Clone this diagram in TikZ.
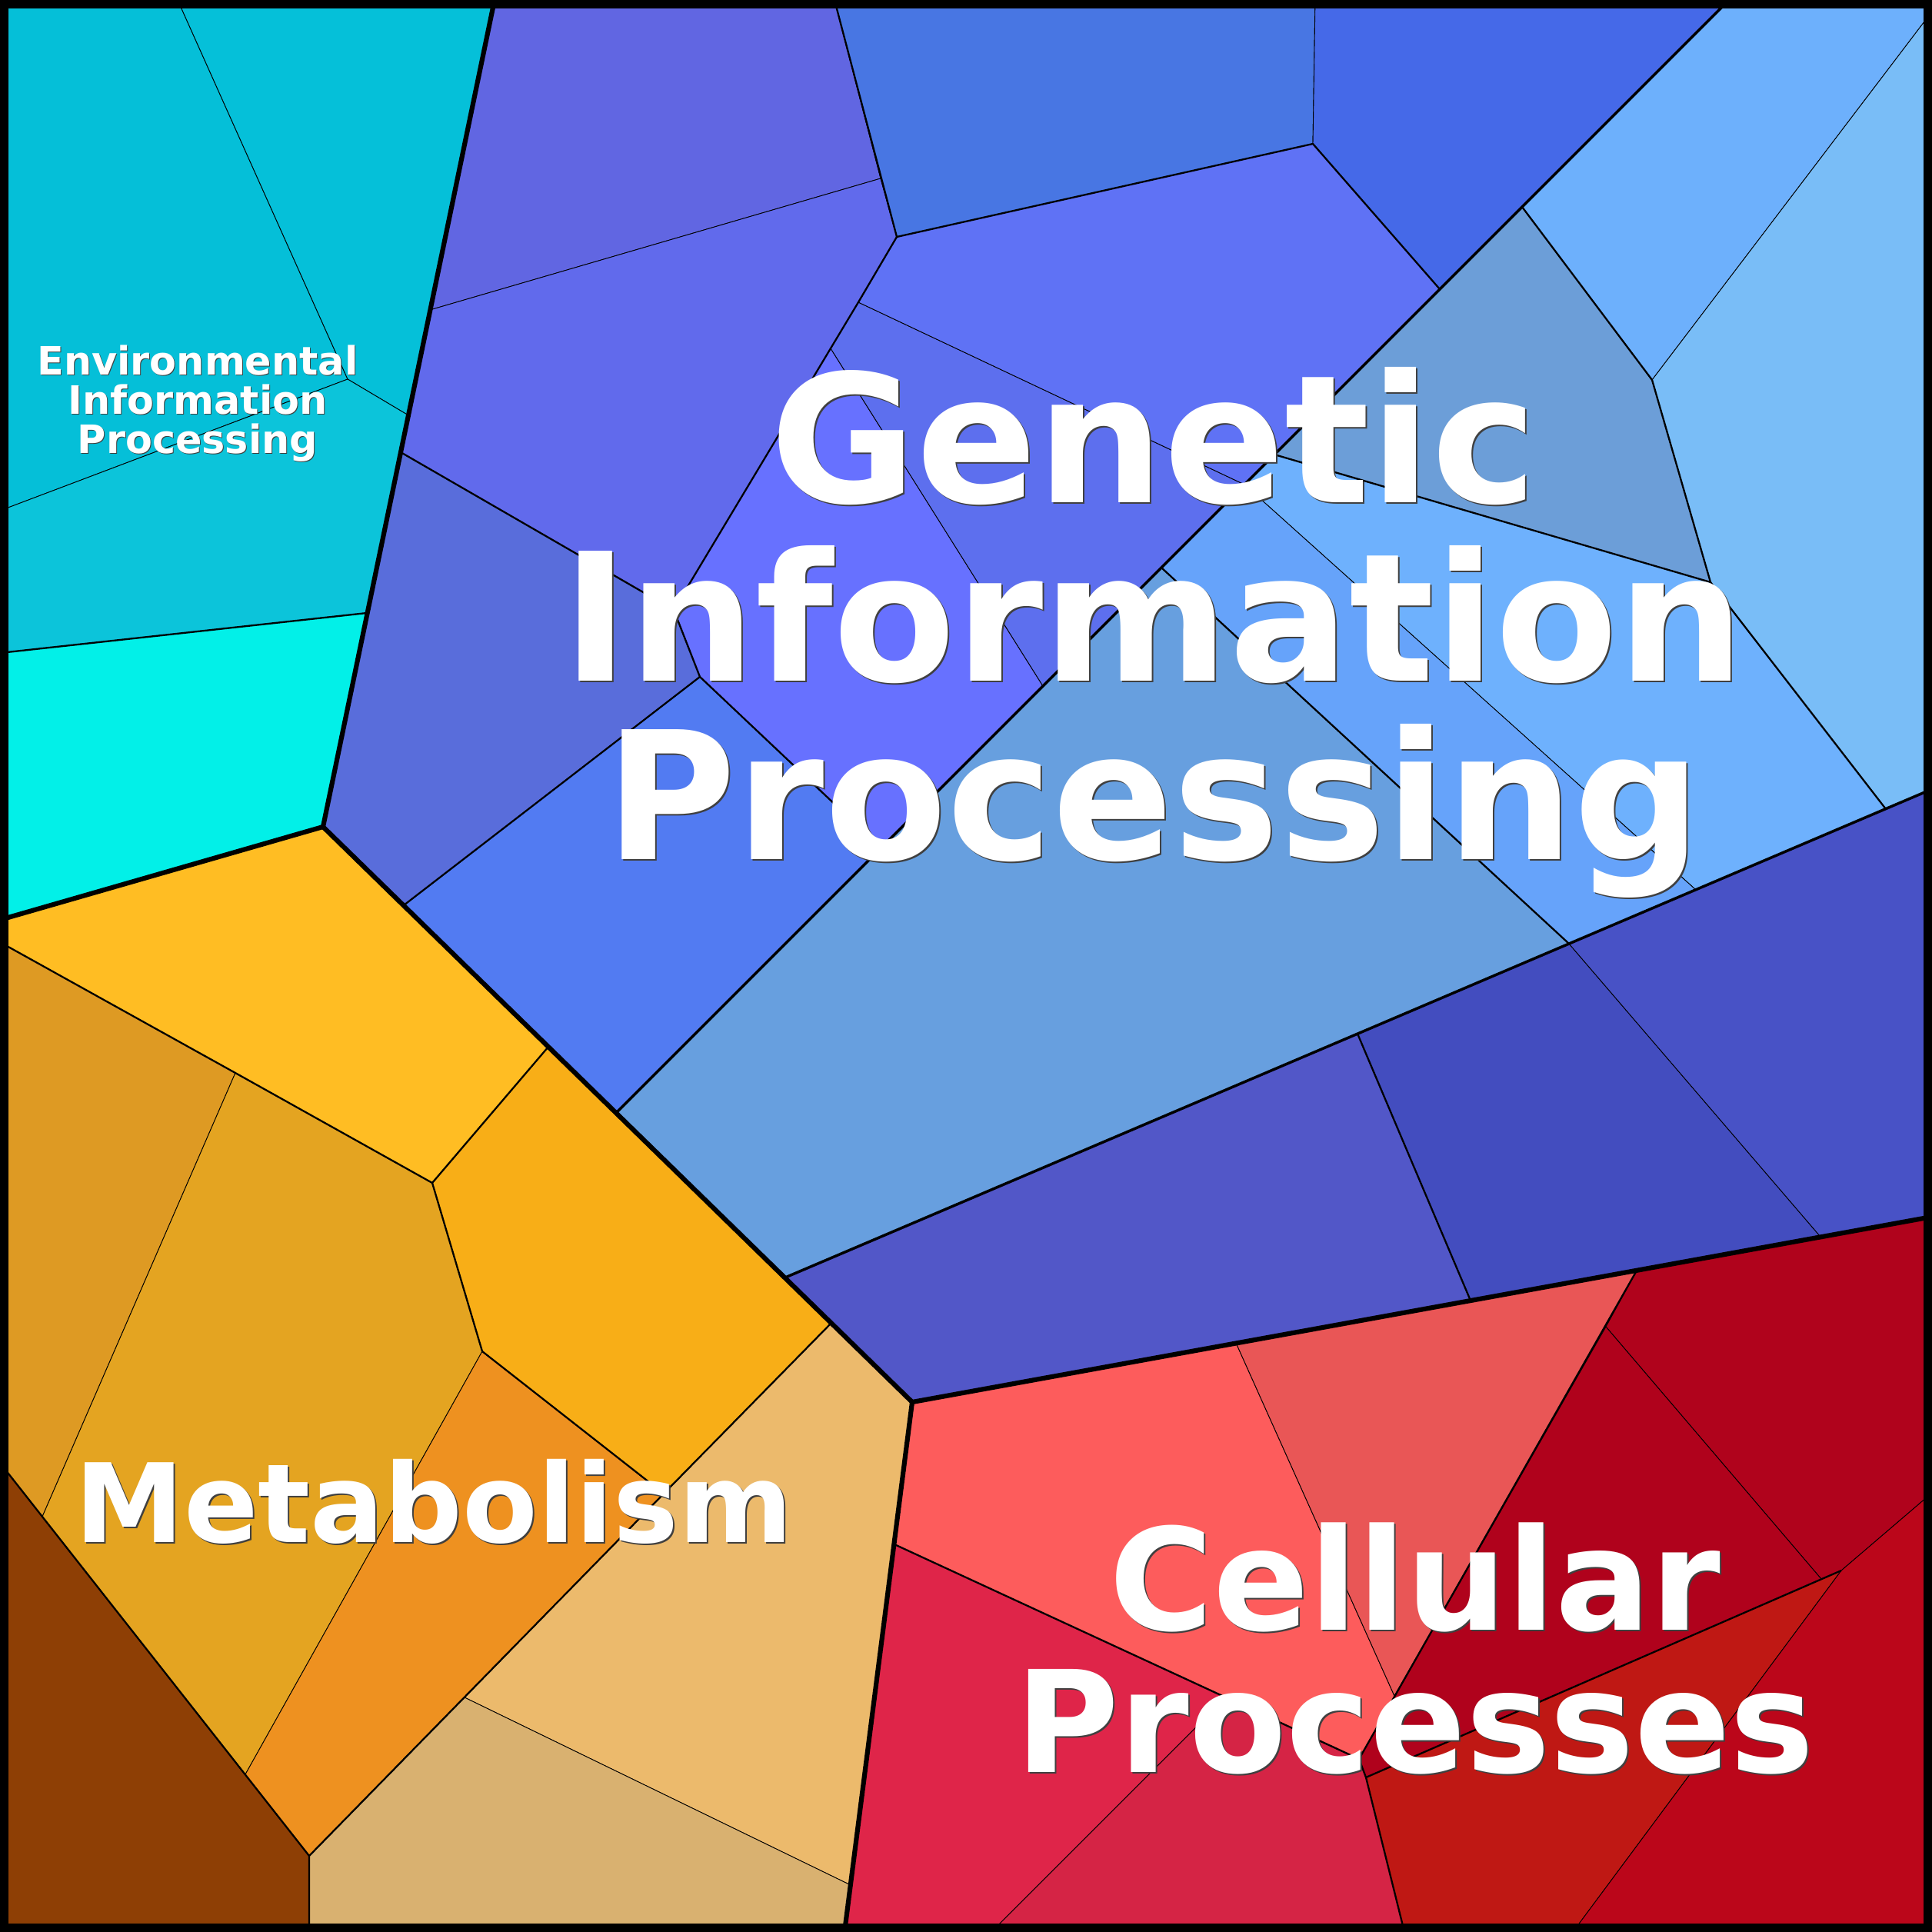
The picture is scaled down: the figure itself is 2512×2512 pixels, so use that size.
\documentclass[tikz,border=0pt]{standalone}
\usepackage{fontspec}
\setmainfont{DejaVu Sans}

% cell colours
\definecolor{envA}{HTML}{05BFD8}
\definecolor{envB}{HTML}{05C0D9}
\definecolor{envC}{HTML}{0CC4DA}
\definecolor{envD}{HTML}{02F0E8}
\definecolor{genA}{HTML}{6166E2}
\definecolor{genB}{HTML}{616AEC}
\definecolor{genC}{HTML}{596DDB}
\definecolor{genD}{HTML}{527BF2}
\definecolor{genE}{HTML}{6771FF}
\definecolor{genF}{HTML}{5D6FEE}
\definecolor{genG}{HTML}{5F72F5}
\definecolor{genH}{HTML}{4876E3}
\definecolor{genI}{HTML}{4569E8}
\definecolor{repA}{HTML}{6DB0FC}
\definecolor{repB}{HTML}{79BDF7}
\definecolor{repC}{HTML}{6C9ED8}
\definecolor{repD}{HTML}{6EB1FD}
\definecolor{repE}{HTML}{66A3FA}
\definecolor{repF}{HTML}{679FDF}
\definecolor{fldA}{HTML}{5257C8}
\definecolor{fldB}{HTML}{434DBF}
\definecolor{fldC}{HTML}{4852C6}
\definecolor{celA}{HTML}{FD5C5C}
\definecolor{celB}{HTML}{E95656}
\definecolor{celC}{HTML}{DF2549}
\definecolor{celD}{HTML}{D52445}
\definecolor{celE}{HTML}{B0031C}
\definecolor{celF}{HTML}{B0021C}
\definecolor{celG}{HTML}{BF1814}
\definecolor{celH}{HTML}{BB061A}
\definecolor{metA}{HTML}{FFBD23}
\definecolor{metB}{HTML}{F8AE17}
\definecolor{metC}{HTML}{DE9A23}
\definecolor{metD}{HTML}{E4A421}
\definecolor{metE}{HTML}{EE9120}
\definecolor{metF}{HTML}{8E3F05}
\definecolor{metG}{HTML}{ECBA6C}
\definecolor{metH}{HTML}{D9B170}

\begin{document}
\begin{tikzpicture}[x=0.01cm, y=-0.01cm,
  cell/.style={draw=black, line width=0.25pt, line join=round},
  midline/.style={draw=black, line width=0.65pt, line join=round},
  subline/.style={draw=black, line width=1pt, line join=round},
  mainline/.style={draw=black, line width=1.75pt, line join=round},
  frame/.style={draw=black, line width=6.2pt},
  lbl/.style={inner sep=0pt, anchor=base, text=white},
  lblshadow/.style={inner sep=0pt, anchor=base, text=black!75},
  envfont/.style={font=\bfseries\fontsize{14.45}{14.5}\selectfont},
  genfont/.style={font=\bfseries\fontsize{65.9}{66}\selectfont},
  celfont/.style={font=\bfseries\fontsize{52.3}{52.6}\selectfont},
  metfont/.style={font=\bfseries\fontsize{40.5}{40.5}\selectfont}]

\useasboundingbox (0,0) rectangle (2512,2512);

% vertices
\coordinate (eg) at (643,0);
\coordinate (e1) at (231,0);
\coordinate (e2) at (452,493);
\coordinate (e3) at (531,540);
\coordinate (e4) at (0,664);
\coordinate (e5) at (0,849);
\coordinate (e6) at (477,797);
\coordinate (em) at (0,1196);
\coordinate (m0) at (420,1075);

\coordinate (g1) at (1085,0);
\coordinate (g2) at (1145,232);
\coordinate (g3) at (1166,308);
\coordinate (g4) at (559,403);
\coordinate (g5) at (1116,393);
\coordinate (g6) at (1080,453);
\coordinate (g7) at (876,793);
\coordinate (g8) at (521,588);
\coordinate (g9) at (910,880);
\coordinate (g10) at (525,1177);
\coordinate (g11) at (1145,1102);
\coordinate (g12) at (801,1447);
\coordinate (g13) at (1356,892);
\coordinate (g14) at (1618,630);
\coordinate (g15) at (1707,187);
\coordinate (g16) at (1710,0);
\coordinate (g17) at (1872,376);
\coordinate (g18) at (2248,0);

\coordinate (ra) at (1979,269);
\coordinate (rb) at (2512,15);
\coordinate (rc) at (2148,494);
\coordinate (rd) at (2224,757);
\coordinate (re) at (2512,1026);
\coordinate (rf) at (2452,1052);
\coordinate (rg) at (1657,591);
\coordinate (rh) at (2205,1157);
\coordinate (ri) at (2040,1227);
\coordinate (rj) at (1510,738);
\coordinate (rk) at (1021,1661);

\coordinate (qa) at (1765,1344);
\coordinate (qb) at (1912,1691);
\coordinate (qc) at (2367,1608);
\coordinate (qd) at (2512,1582);
\coordinate (mc) at (1186,1823);

\coordinate (c1) at (1607,1746);
\coordinate (c2) at (2128,1652);
\coordinate (c3) at (1767,2287);
\coordinate (c4) at (1813,2205);
\coordinate (c5) at (1163,2008);
\coordinate (c6) at (1594,2207);
\coordinate (c7) at (1776,2311);
\coordinate (c8) at (1826,2512);
\coordinate (c9) at (1289,2512);
\coordinate (c10) at (2088,1725);
\coordinate (c11) at (2394,2042);
\coordinate (c12) at (2512,1941);
\coordinate (c13) at (2045,2512);
\coordinate (c14) at (2368,2053);
\coordinate (cb) at (1098,2512);

\coordinate (m1) at (0,1225);
\coordinate (m2) at (306,1395);
\coordinate (m3) at (562,1538);
\coordinate (m4) at (713,1361);
\coordinate (m5) at (627,1757);
\coordinate (m6) at (863,1942);
\coordinate (m7) at (1081,1720);
\coordinate (m8) at (319,2307);
\coordinate (m9) at (402,2413);
\coordinate (m10) at (0,1902);
\coordinate (m11) at (55,1972);
\coordinate (m12) at (604,2207);
\coordinate (m13) at (1106,2451);
\coordinate (m14) at (402,2512);

% Environmental Information Processing
\path[cell, fill=envA] (0,0) -- (e1) -- (e2) -- (e4) -- cycle;
\path[cell, fill=envB] (e1) -- (eg) -- (e3) -- (e2) -- cycle;
\path[cell, fill=envC] (e4) -- (e2) -- (e3) -- (e6) -- (e5) -- cycle;
\path[cell, fill=envD] (e5) -- (e6) -- (m0) -- (em) -- cycle;

% Genetic Information Processing
\path[cell, fill=genA] (eg) -- (g1) -- (g2) -- (g4) -- cycle;
\path[cell, fill=genB] (g4) -- (g2) -- (g3) -- (g5) -- (g6) -- (g7) -- (g8) -- cycle;
\path[cell, fill=genC] (g8) -- (g7) -- (g9) -- (g10) -- (m0) -- cycle;
\path[cell, fill=genD] (g10) -- (g9) -- (g11) -- (g12) -- cycle;
\path[cell, fill=genE] (g7) -- (g6) -- (g13) -- (g11) -- (g9) -- cycle;
\path[cell, fill=genF] (g6) -- (g5) -- (g14) -- (g13) -- cycle;
\path[cell, fill=genG] (g3) -- (g15) -- (g17) -- (g14) -- (g5) -- cycle;
\path[cell, fill=genH] (g1) -- (g16) -- (g15) -- (g3) -- (g2) -- cycle;
\path[cell, fill=genI] (g16) -- (g18) -- (g17) -- (g15) -- cycle;

\path[cell, fill=repA] (g18) -- (2512,0) -- (rb) -- (rc) -- (ra) -- cycle;
\path[cell, fill=repB] (rb) -- (re) -- (rf) -- (rd) -- (rc) -- cycle;
\path[cell, fill=repC] (ra) -- (rc) -- (rd) -- (rg) -- cycle;
\path[cell, fill=repD] (rg) -- (rd) -- (rf) -- (rh) -- (g14) -- cycle;
\path[cell, fill=repE] (g14) -- (rh) -- (ri) -- (rj) -- cycle;
\path[cell, fill=repF] (rj) -- (ri) -- (rk) -- (g12) -- cycle;

\path[cell, fill=fldA] (rk) -- (qa) -- (qb) -- (mc) -- cycle;
\path[cell, fill=fldB] (qa) -- (ri) -- (qc) -- (qb) -- cycle;
\path[cell, fill=fldC] (ri) -- (re) -- (qd) -- (qc) -- cycle;

% Cellular Processes
\path[cell, fill=celA] (mc) -- (c1) -- (c4) -- (c3) -- (c5) -- cycle;
\path[cell, fill=celB] (c1) -- (c2) -- (c4) -- cycle;
\path[cell, fill=celC] (c5) -- (c6) -- (c9) -- (cb) -- cycle;
\path[cell, fill=celD] (c6) -- (c3) -- (c7) -- (c8) -- (c9) -- cycle;
\path[cell, fill=celE] (c2) -- (qd) -- (c12) -- (c11) -- (c14) -- (c10) -- cycle;
\path[cell, fill=celF] (c10) -- (c14) -- (c7) -- (c3) -- cycle;
\path[cell, fill=celG] (c7) -- (c11) -- (c13) -- (c8) -- cycle;
\path[cell, fill=celH] (c11) -- (c12) -- (2512,2512) -- (c13) -- cycle;

% Metabolism
\path[cell, fill=metA] (em) -- (m0) -- (m4) -- (m3) -- (m2) -- (m1) -- cycle;
\path[cell, fill=metB] (m4) -- (m7) -- (m6) -- (m5) -- (m3) -- cycle;
\path[cell, fill=metC] (m1) -- (m2) -- (m11) -- (m10) -- cycle;
\path[cell, fill=metD] (m2) -- (m3) -- (m5) -- (m8) -- (m11) -- cycle;
\path[cell, fill=metE] (m5) -- (m6) -- (m9) -- (m8) -- cycle;
\path[cell, fill=metF] (m10) -- (m9) -- (m14) -- (0,2512) -- cycle;
\path[cell, fill=metG] (m7) -- (mc) -- (m13) -- (m12) -- (m6) -- cycle;
\path[cell, fill=metH] (m9) -- (m12) -- (m13) -- (cb) -- (m14) -- cycle;

% second level borders
\draw[midline] (e5) -- (e6);
\draw[midline] (g1) -- (g3) -- (g15) -- (g17);
\draw[midline] (g3) -- (g5) -- (g6) -- (g7) -- (g9) -- (g11);
\draw[midline] (g8) -- (g7);
\draw[midline] (g10) -- (g9);
\draw[midline] (ra) -- (rc) -- (rd) -- (rf);
\draw[midline] (rd) -- (rg);
\draw[midline] (rj) -- (ri);
\draw[midline] (qa) -- (qb);
\draw[midline] (c2) -- (c3) -- (c7) -- (c8);
\draw[midline] (c5) -- (c3);
\draw[midline] (c7) -- (c11);
\draw[midline] (m1) -- (m2) -- (m3) -- (m4);
\draw[midline] (m3) -- (m5) -- (m6);
\draw[midline] (m7) -- (m6) -- (m9) -- (m14);
\draw[midline] (m10) -- (m9);

\draw[subline] (g18) -- (g12);
\draw[subline] (re) -- (rk);

% main category borders
\draw[mainline] (eg) -- (m0) -- (em);
\draw[mainline] (m0) -- (mc) -- (cb);
\draw[mainline] (mc) -- (qd);
\draw[frame] (0,0) rectangle (2512,2512);

% labels
\node[lblshadow, envfont] (envs1) at (258,488) {Environmental};
\node[lblshadow, envfont] (envs2) at (258,539) {Information};
\node[lblshadow, envfont] (envs3) at (258,590) {Processing};
\node[lbl, envfont] (env1) at (257,487) {Environmental};
\node[lbl, envfont] (env2) at (257,538) {Information};
\node[lbl, envfont] (env3) at (257,589) {Processing};

\node[lblshadow, genfont] (gens1) at (1502,655) {Genetic};
\node[lblshadow, genfont] (gens2) at (1502,887) {Information};
\node[lblshadow, genfont] (gens3) at (1502,1119) {Processing};
\node[lbl, genfont] (gen1) at (1500,653) {Genetic};
\node[lbl, genfont] (gen2) at (1500,885) {Information};
\node[lbl, genfont] (gen3) at (1500,1117) {Processing};

\node[lblshadow, celfont] (cels1) at (1842,2121) {Cellular};
\node[lblshadow, celfont] (cels2) at (1842,2306) {Processes};
\node[lbl, celfont] (cel1) at (1840,2119) {Cellular};
\node[lbl, celfont] (cel2) at (1840,2304) {Processes};

\node[lblshadow, metfont] (mets) at (566,2007) {Metabolism};
\node[lbl, metfont] (met) at (564,2005) {Metabolism};
\end{tikzpicture}
\end{document}
